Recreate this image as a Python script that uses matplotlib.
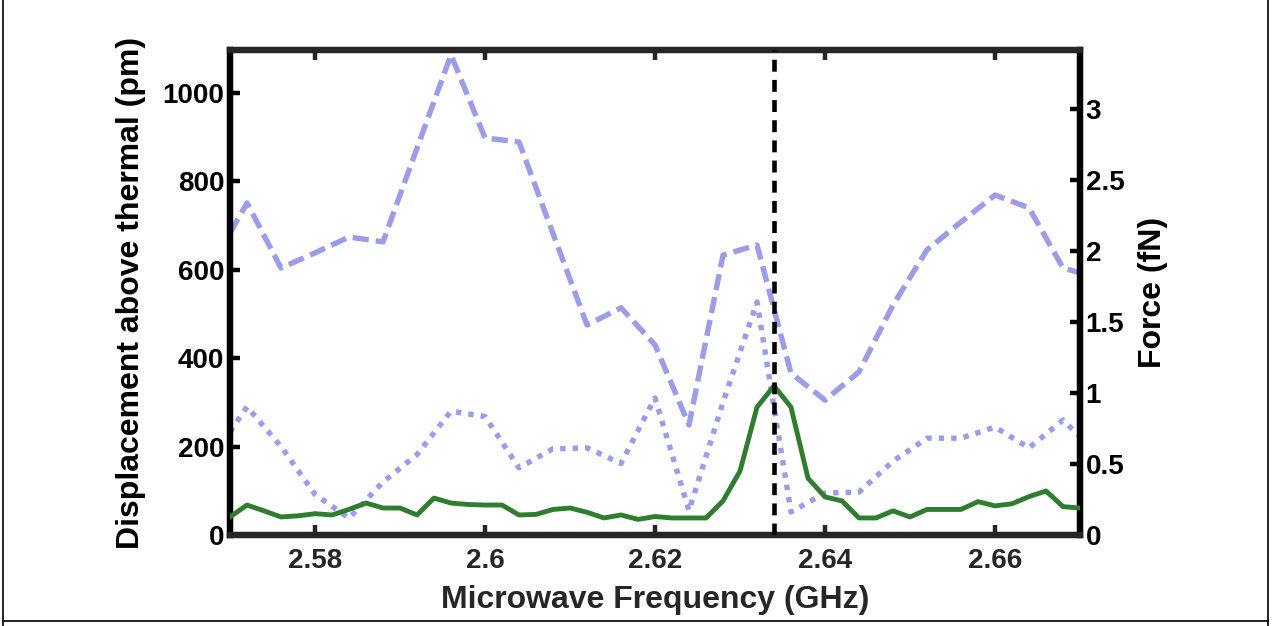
import matplotlib
matplotlib.use("Agg")
import matplotlib.pyplot as plt
from matplotlib.lines import Line2D

plt.rcParams['font.family'] = ['Liberation Sans', 'DejaVu Sans']
plt.rcParams['font.weight'] = 'bold'

# ---- data ----
# dashed blue series (pm, left axis)
freq_dashed = [2.570, 2.572, 2.576, 2.580, 2.584, 2.588, 2.592, 2.596, 2.600, 2.604,
               2.608, 2.612, 2.616, 2.620, 2.624, 2.628, 2.632, 2.636, 2.640, 2.644,
               2.648, 2.652, 2.656, 2.660, 2.664, 2.668, 2.670]
disp_dashed = [683, 751, 604, 638, 674, 663, 875, 1086, 898, 889,
               682, 475, 514, 430, 249, 633, 656, 366, 305, 369,
               520, 645, 708, 769, 740, 604, 593]

# dotted blue series (pm, left axis)
freq_dotted = [2.570, 2.572, 2.576, 2.580, 2.584, 2.588, 2.592, 2.596, 2.600, 2.604,
               2.608, 2.612, 2.616, 2.620, 2.624, 2.628, 2.632, 2.636, 2.640, 2.644,
               2.648, 2.652, 2.656, 2.660, 2.664, 2.668, 2.670]
disp_dotted = [233, 290, 200, 92, 38, 120, 182, 280, 268, 152,
               195, 197, 162, 310, 55, 300, 527, 52, 95, 97,
               167, 219, 219, 244, 197, 260, 222]

# solid green series (fN, right axis)
freq_force = [2.570, 2.572, 2.574, 2.576, 2.578, 2.580, 2.582, 2.584, 2.586, 2.588,
              2.590, 2.592, 2.594, 2.596, 2.598, 2.600, 2.602, 2.604, 2.606, 2.608,
              2.610, 2.612, 2.614, 2.616, 2.618, 2.620, 2.622, 2.624, 2.626, 2.628,
              2.630, 2.632, 2.634, 2.636, 2.638, 2.640, 2.642, 2.644, 2.646, 2.648,
              2.650, 2.652, 2.654, 2.656, 2.658, 2.660, 2.662, 2.664, 2.666, 2.668,
              2.670]
force = [0.127, 0.211, 0.170, 0.127, 0.135, 0.150, 0.141, 0.180, 0.225, 0.190,
         0.190, 0.141, 0.260, 0.225, 0.215, 0.211, 0.211, 0.141, 0.145, 0.180,
         0.190, 0.160, 0.120, 0.141, 0.110, 0.130, 0.120, 0.120, 0.120, 0.240,
         0.450, 0.900, 1.050, 0.900, 0.400, 0.268, 0.240, 0.120, 0.120, 0.170,
         0.127, 0.180, 0.180, 0.180, 0.235, 0.205, 0.220, 0.270, 0.310, 0.200,
         0.190]

resonance_freq = 2.634

x_ticks = [2.58, 2.60, 2.62, 2.64, 2.66]
x_tick_labels = ['2.58', '2.6', '2.62', '2.64', '2.66']
left_ticks = [0, 200, 400, 600, 800, 1000]
right_ticks = [0, 0.5, 1, 1.5, 2, 2.5, 3]
right_tick_labels = ['0', '0.5', '1', '1.5', '2', '2.5', '3']

# ---- figure ----
W, H = 1276, 626
fig = plt.figure(figsize=(W / 100, H / 100), dpi=100)
ax = fig.add_axes([230 / W, 1 - 535 / H, 850 / W, 485 / H])
ax2 = ax.twinx()

blue = '#9c9ce8'
green = '#2f7d2f'
dark = '#262626'

ax.plot(freq_dashed, disp_dashed, color=blue, lw=3.9, dashes=(3.0, 1.3),
        solid_capstyle='butt', dash_capstyle='butt', zorder=2)
ax.plot(freq_dotted, disp_dotted, color=blue, lw=3.9, dashes=(1.0, 1.3),
        dash_capstyle='butt', zorder=2)
ax2.plot(freq_force, force, color=green, lw=3.5, zorder=3)
ax2.axvline(resonance_freq, color='black', lw=3.3, dashes=(2.6, 1.8), zorder=4)

ax.set_xlim(2.57, 2.67)
ax.set_ylim(0, 1097)
ax2.set_ylim(0, 3.415)

ax.set_xticks(x_ticks)
ax.set_xticklabels(x_tick_labels)
ax.set_yticks(left_ticks)
ax2.set_yticks(right_ticks)
ax2.set_yticklabels(right_tick_labels)

ax.tick_params(axis='x', direction='in', length=7, width=3.2, color=dark,
               labelsize=20, labelcolor=dark, top=True, bottom=True, pad=9)
ax.tick_params(axis='y', direction='in', length=7, width=3.2, color='black',
               labelsize=20, labelcolor='black', right=False, pad=4)
ax2.tick_params(axis='y', direction='in', length=7, width=3.2, color='black',
                labelsize=20, labelcolor='black', pad=4)

for a in (ax, ax2):
    a.spines['top'].set_color(dark)
    a.spines['bottom'].set_color(dark)
    a.spines['left'].set_color('black')
    a.spines['right'].set_color('black')
    for s in a.spines.values():
        s.set_linewidth(4.5)

ax.set_xlabel('Microwave Frequency (GHz)', fontsize=23, color=dark,
              fontweight='bold', labelpad=8)
ax.set_ylabel('Displacement above thermal (pm)', fontsize=23, color='black',
              fontweight='bold', labelpad=12)
ax2.set_ylabel('Force (fN)', fontsize=23, color='black', fontweight='bold',
               labelpad=10)

# figure frame lines
fig.add_artist(Line2D([3 / W, 3 / W], [0, 1], color='black', lw=1.2))
fig.add_artist(Line2D([1268 / W, 1268 / W], [0, 1], color='black', lw=1.2))
fig.add_artist(Line2D([3 / W, 1268 / W], [1 - 621 / H, 1 - 621 / H], color='black', lw=1.2))

fig.savefig('out.png', dpi=100)
